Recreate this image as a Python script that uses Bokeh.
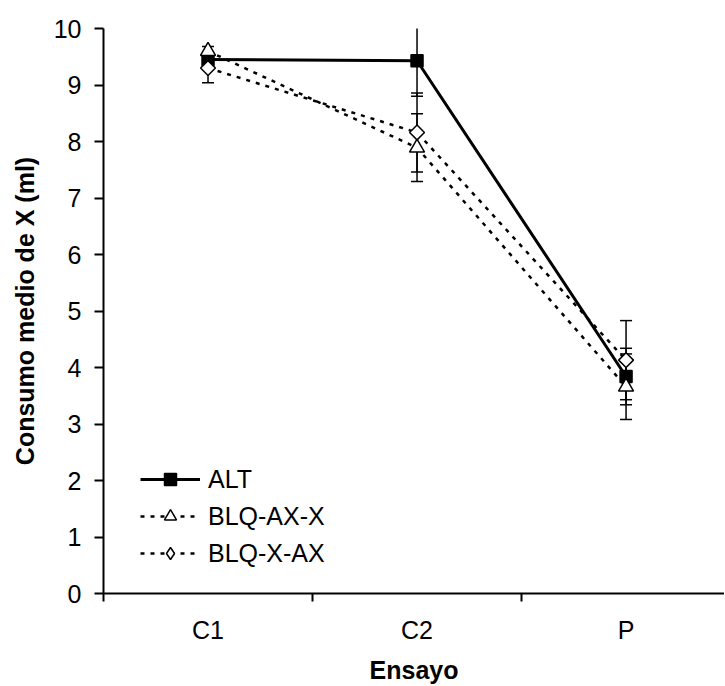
import numpy as np
from bokeh.plotting import figure
from bokeh.models import ColumnDataSource, Range1d, FixedTicker, Whisker, TeeHead, Legend, LegendItem
from bokeh.embed import file_html
from bokeh.resources import INLINE

categories = ["C1", "C2", "P"]
alt = [9.45, 9.43, 3.84]
alt_err = [0.08, 0.63, 0.50]
blq_ax_x = [9.60, 7.89, 3.66]
blq_ax_x_err = [0.08, 0.60, 0.58]
blq_x_ax = [9.30, 8.16, 4.13]
blq_x_ax_err = [0.26, 0.70, 0.70]
y_ticks = list(range(0, 11))

xs = [i + 0.5 for i in range(len(categories))]
bounds = [float(i) for i in range(len(categories) + 1)]

FONT = "Liberation Sans"
FS = "25px"

p = figure(width=724, height=686, output_backend="svg", toolbar_location=None,
           x_range=Range1d(0, 2.971), y_range=Range1d(0, 10),
           min_border_left=103, min_border_right=0, min_border_top=28, min_border_bottom=91)
p.outline_line_color = None
p.xgrid.visible = False
p.ygrid.visible = False
p.background_fill_color = "white"

# x axis
xa_ = p.xaxis[0]
xa_.ticker = FixedTicker(ticks=xs, minor_ticks=bounds)
xa_.major_label_overrides = {x: c for x, c in zip(xs, categories)}
xa_.major_tick_out = 0
xa_.major_tick_in = 0
xa_.minor_tick_out = 8
xa_.minor_tick_in = 0
xa_.minor_tick_line_width = 2
xa_.minor_tick_line_color = "black"
xa_.axis_line_width = 2
xa_.axis_line_color = "black"
xa_.major_label_text_font = FONT
xa_.major_label_text_font_size = FS
xa_.major_label_text_color = "black"
xa_.major_label_standoff = 14
xa_.axis_label = "Ensayo"
xa_.axis_label_text_font = FONT
xa_.axis_label_text_font_style = "bold"
xa_.axis_label_text_font_size = FS
xa_.axis_label_text_color = "black"
xa_.axis_label_standoff = 9

# y axis
ya = p.yaxis[0]
ya.ticker = FixedTicker(ticks=y_ticks, minor_ticks=[])
ya.major_tick_out = 9
ya.major_tick_in = 0
ya.major_tick_line_width = 2
ya.major_tick_line_color = "black"
ya.axis_line_width = 2
ya.axis_line_color = "black"
ya.major_label_text_font = FONT
ya.major_label_text_font_size = FS
ya.major_label_text_color = "black"
ya.major_label_standoff = 13
ya.axis_label = "Consumo medio de X (ml)"
ya.axis_label_text_font = FONT
ya.axis_label_text_font_style = "bold"
ya.axis_label_text_font_size = FS
ya.axis_label_text_color = "black"
ya.axis_label_standoff = 12

series = [
    ("ALT", alt, alt_err, "solid", 3, "square", 12, 0.0, "square", "black"),
    ("BLQ-AX-X", blq_ax_x, blq_ax_x_err, "4 6", 2.5, "triangle", 15, 0.0, "triangle", "white"),
    ("BLQ-X-AX", blq_x_ax, blq_x_ax_err, "4 6", 2.5, "square", 10.5, np.pi / 4, "diamond", "white"),
]

line_rs = []
for name, vals, errs, dash, lw, marker, size, angle, lmarker, fill in series:
    src = ColumnDataSource(dict(
        x=xs, y=vals,
        upper=[v + e for v, e in zip(vals, errs)],
        lower=[v - e for v, e in zip(vals, errs)],
    ))
    w = Whisker(source=src, base="x", upper="upper", lower="lower",
                line_color="black", line_width=1.5,
                upper_head=TeeHead(size=12, line_color="black", line_width=1.5),
                lower_head=TeeHead(size=12, line_color="black", line_width=1.5))
    p.add_layout(w)
    lr = p.line("x", "y", source=src, line_color="black", line_width=lw, line_dash=dash)
    line_rs.append(lr)

items = []
for (name, vals, errs, dash, lw, marker, size, angle, lmarker, fill), lr in zip(series, line_rs):
    src2 = ColumnDataSource(dict(x=xs, y=vals))
    sr = p.scatter("x", "y", source=src2, marker=marker, size=size, angle=angle,
                   fill_color=fill, line_color="black", line_width=1.5)
    rends = [lr]
    if lmarker == marker and angle == 0.0:
        rends.append(sr)
    else:
        dummy = p.scatter("x", "y", source=src2, marker=lmarker, size=size,
                          fill_color=fill, line_color="black", line_width=1.5, visible=False)
        rends.append(dummy)
    items.append(LegendItem(label=name, renderers=rends))

lg = Legend(items=items)
lg.location = (37, 25)
lg.border_line_color = None
lg.background_fill_alpha = 0
lg.padding = 0
lg.margin = 0
lg.glyph_width = 60
lg.glyph_height = 30
lg.label_height = 30
lg.label_standoff = 8
lg.spacing = 7
lg.label_text_font = FONT
lg.label_text_font_size = FS
lg.label_text_color = "black"
lg.label_text_baseline = "middle"
p.add_layout(lg, "center")

open("out.html", "w").write(file_html(p, INLINE))
